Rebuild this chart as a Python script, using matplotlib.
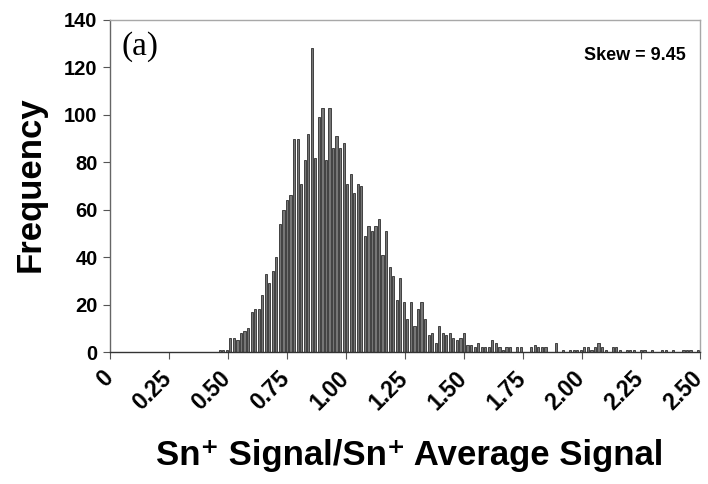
import numpy as np
import matplotlib
matplotlib.use("Agg")
import matplotlib.pyplot as plt
import matplotlib.transforms as mtransforms

# histogram of Sn+ signal / Sn+ average signal, bins of 0.015 starting at 0.465
bin_start = 0.465
bin_width = 0.015
counts = [
    1, 1, 1, 6, 6, 5, 8, 9, 10, 17,
    18, 18, 24, 33, 29, 34, 40, 54, 60, 64,
    66, 90, 90, 71, 81, 92, 128, 82, 99, 103,
    81, 103, 86, 91, 86, 88, 71, 75, 67, 71,
    70, 49, 53, 51, 53, 56, 41, 51, 36, 32,
    22, 31, 21, 14, 21, 11, 18, 21, 14, 7,
    8, 4, 11, 8, 7, 8, 6, 5, 6, 8,
    3, 3, 2, 4, 2, 2, 2, 5, 4, 2,
    1, 2, 2, 0, 2, 2, 0, 0, 2, 3,
    2, 2, 2, 0, 0, 4, 0, 1, 0, 1,
    1, 1, 1, 2, 2, 1, 2, 4, 2, 1,
    0, 2, 2, 1, 0, 1, 1, 1, 0, 1,
    1, 0, 1, 0, 0, 1, 1, 0, 1, 0,
    0, 1, 1, 1, 0, 1,
]
x_ticks = [0, 0.25, 0.50, 0.75, 1.00, 1.25, 1.50, 1.75, 2.00, 2.25, 2.50]
x_tick_labels = ['0', '0.25', '0.50', '0.75', '1.00', '1.25', '1.50',
                 '1.75', '2.00', '2.25', '2.50']
y_ticks = [0, 20, 40, 60, 80, 100, 120, 140]

sans = ['Liberation Sans', 'DejaVu Sans']
plt.rcParams['font.family'] = sans

fig = plt.figure(figsize=(7.08, 4.84), dpi=100)
ax = fig.add_axes([0.1554, 0.2727, 0.8333, 0.686])

centers = bin_start + bin_width * np.arange(len(counts))
ax.bar(centers, counts, width=bin_width * 0.62, color='#767676',
       edgecolor='#2e2e2e', linewidth=0.6)

ax.set_xlim(0, 2.5)
ax.set_ylim(0, 140)
ax.set_xticks(x_ticks)
ax.set_xticklabels(x_tick_labels, rotation=45, ha='right', va='top',
                   rotation_mode='anchor', fontsize=16.5, fontweight='bold')
ax.tick_params(axis='both', direction='out', length=5, width=0.8,
               color='#555555', pad=4)
shift = mtransforms.ScaledTranslation(-9 / 100, -2 / 100, fig.dpi_scale_trans)
for lab in ax.xaxis.get_majorticklabels():
    lab.set_transform(lab.get_transform() + shift)
ax.set_yticks(y_ticks)
ax.set_yticklabels([str(v) for v in y_ticks], fontsize=14.5,
                   fontweight='bold')

ax.spines['left'].set_color('#666666')
ax.spines['bottom'].set_color('#333333')
ax.spines['top'].set_color('#a8a8a8')
ax.spines['right'].set_color('#a8a8a8')
for s in ax.spines.values():
    s.set_linewidth(1.0)

ax.set_ylabel('Frequency', fontsize=25, fontweight='bold')
ax.yaxis.set_label_coords(-0.107, 0.505)
ax.set_xlabel('Sn\u207a Signal/Sn\u207a Average Signal', fontsize=25,
              fontweight='bold')
ax.xaxis.set_label_coords(0.508, -0.262)

ax.text(0.02, 0.965, '(a)', transform=ax.transAxes, ha='left', va='top',
        fontsize=24, family=['Liberation Serif', 'DejaVu Serif'])
ax.text(0.975, 0.92, 'Skew = 9.45', transform=ax.transAxes, ha='right',
        va='top', fontsize=13, fontweight='bold')

fig.savefig('out.png', dpi=100)
